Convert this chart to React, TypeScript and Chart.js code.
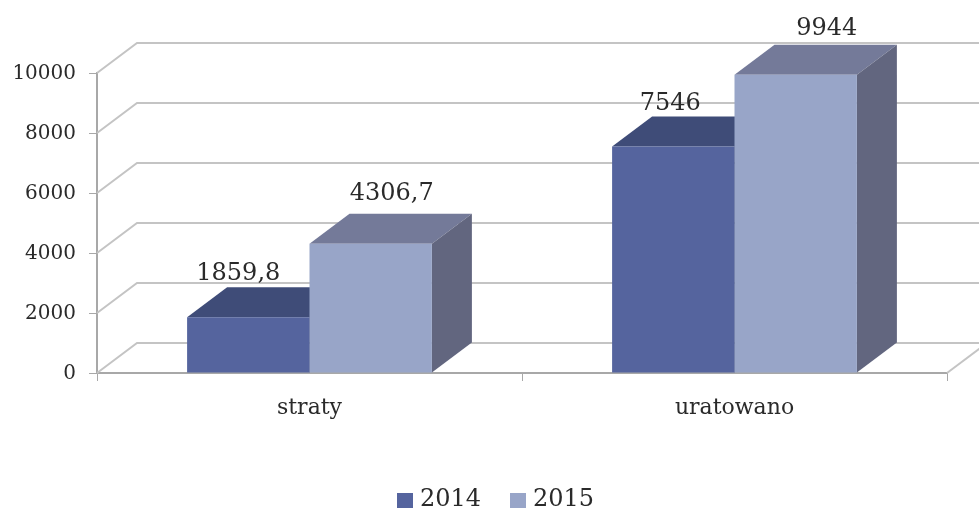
import React, { useEffect, useRef } from "react";
import { Chart, registerables } from "chart.js";

Chart.register(...registerables);

const categories = ["straty", "uratowano"];
const series2014 = [1859.8, 7546];
const series2015 = [4306.7, 9944];
const labels2014 = ["1859,8", "7546"];
const labels2015 = ["4306,7", "9944"];
const seriesNames = ["2014", "2015"];

const FRONT = ["#55649e", "#98a5c8"];
const TOP = ["#3f4c78", "#747a99"];
const SIDE = ["#333e62", "#62667f"];
const DX = 40;
const DY = 30;
const GRID = "#c4c4c4";
const AXIS = "#a8a8a8";
const TEXT = "#2a2a2a";
const SERIF = "'DejaVu Serif', serif";

// Hand-placed offsets of the value labels, from the top-centre of each bar's front face.
const LABEL_SHIFT = [
  [[-10, -43], [-3, -43]],
  [[21, -50], [31, -46]],
];
const VALUE_TEXT = [labels2014, labels2015];

const poly = (ctx: CanvasRenderingContext2D, pts: number[][], fill: string) => {
  ctx.beginPath();
  pts.forEach(([x, y], i) => (i ? ctx.lineTo(x, y) : ctx.moveTo(x, y)));
  ctx.closePath();
  ctx.fillStyle = fill;
  ctx.fill();
};

const threeD = {
  id: "threeD",
  beforeDatasetsDraw(chart: any) {
    const { ctx, chartArea, scales } = chart;
    ctx.save();
    // back wall and floor lines, from the y scale's ticks
    ctx.strokeStyle = GRID;
    ctx.lineWidth = 2;
    scales.y.ticks.forEach((t: any) => {
      const y = scales.y.getPixelForValue(t.value);
      ctx.beginPath();
      ctx.moveTo(chartArea.left, y);
      ctx.lineTo(chartArea.left + DX, y - DY);
      ctx.lineTo(chartArea.right + DX, y - DY);
      ctx.stroke();
    });
    const y0 = scales.y.getPixelForValue(0);
    ctx.beginPath();
    ctx.moveTo(chartArea.right, y0);
    ctx.lineTo(chartArea.right + DX, y0 - DY);
    ctx.stroke();
    // top and side faces; the library draws the front faces over them
    chart.data.datasets.forEach((_: any, d: number) => {
      chart.getDatasetMeta(d).data.forEach((b: any) => {
        const l = b.x - b.width / 2;
        const r = b.x + b.width / 2;
        poly(ctx, [[l, b.y], [l + DX, b.y - DY], [r + DX, b.y - DY], [r, b.y]], TOP[d]);
        poly(ctx, [[r, b.y], [r + DX, b.y - DY], [r + DX, b.base - DY], [r, b.base]], SIDE[d]);
      });
    });
    ctx.restore();
  },
  afterDatasetsDraw(chart: any) {
    const { ctx } = chart;
    ctx.save();
    ctx.fillStyle = TEXT;
    ctx.font = `24px ${SERIF}`;
    ctx.textAlign = "center";
    ctx.textBaseline = "middle";
    chart.data.datasets.forEach((_: any, d: number) => {
      chart.getDatasetMeta(d).data.forEach((b: any, i: number) => {
        const [sx, sy] = LABEL_SHIFT[d][i];
        ctx.fillText(VALUE_TEXT[d][i], b.x + sx, b.y + sy);
      });
    });
    // legend
    ctx.textAlign = "left";
    const boxX = [397, 510];
    chart.data.datasets.forEach((ds: any, d: number) => {
      ctx.fillStyle = FRONT[d];
      ctx.fillRect(boxX[d], 493, 16, 15);
      ctx.fillStyle = TEXT;
      ctx.fillText(ds.label, boxX[d] + 23, 500);
    });
    ctx.restore();
  },
};

export default function App() {
  const ref = useRef<HTMLCanvasElement>(null);
  useEffect(() => {
    document.body.style.margin = "0";
    const chart = new Chart(ref.current!, {
      type: "bar",
      data: {
        labels: categories,
        datasets: [
          { label: seriesNames[0], data: series2014, backgroundColor: FRONT[0] },
          { label: seriesNames[1], data: series2015, backgroundColor: FRONT[1] },
        ],
      },
      plugins: [threeD],
      options: {
        responsive: false,
        animation: false,
        layout: { padding: { top: 73, right: 32, left: 0, bottom: 0 } },
        plugins: { legend: { display: false }, tooltip: { enabled: false } },
        datasets: { bar: { barPercentage: 1, categoryPercentage: 0.576 } },
        scales: {
          x: {
            afterFit: (s: any) => { s.height = 139; },
            grid: { drawOnChartArea: false, drawTicks: true, tickLength: 8, color: AXIS },
            border: { color: AXIS, width: 2 },
            ticks: { color: TEXT, font: { family: SERIF, size: 22 }, padding: 14, maxRotation: 0 },
          },
          y: {
            min: 0,
            max: 10000,
            afterFit: (s: any) => { s.width = 97; },
            grid: { drawOnChartArea: false, drawTicks: true, tickLength: 8, color: AXIS },
            border: { color: AXIS, width: 2 },
            ticks: {
              stepSize: 2000,
              color: TEXT,
              font: { family: SERIF, size: 20 },
              padding: 13,
              labelOffset: 1,
              callback: (v: any) => String(v),
            },
          },
        },
      } as any,
    });
    return () => chart.destroy();
  }, []);
  return (
    <canvas
      ref={ref}
      width={979}
      height={512}
      style={{ display: "block", width: 979, height: 512, background: "#fff", filter: "blur(0.5px)" }}
    />
  );
}
